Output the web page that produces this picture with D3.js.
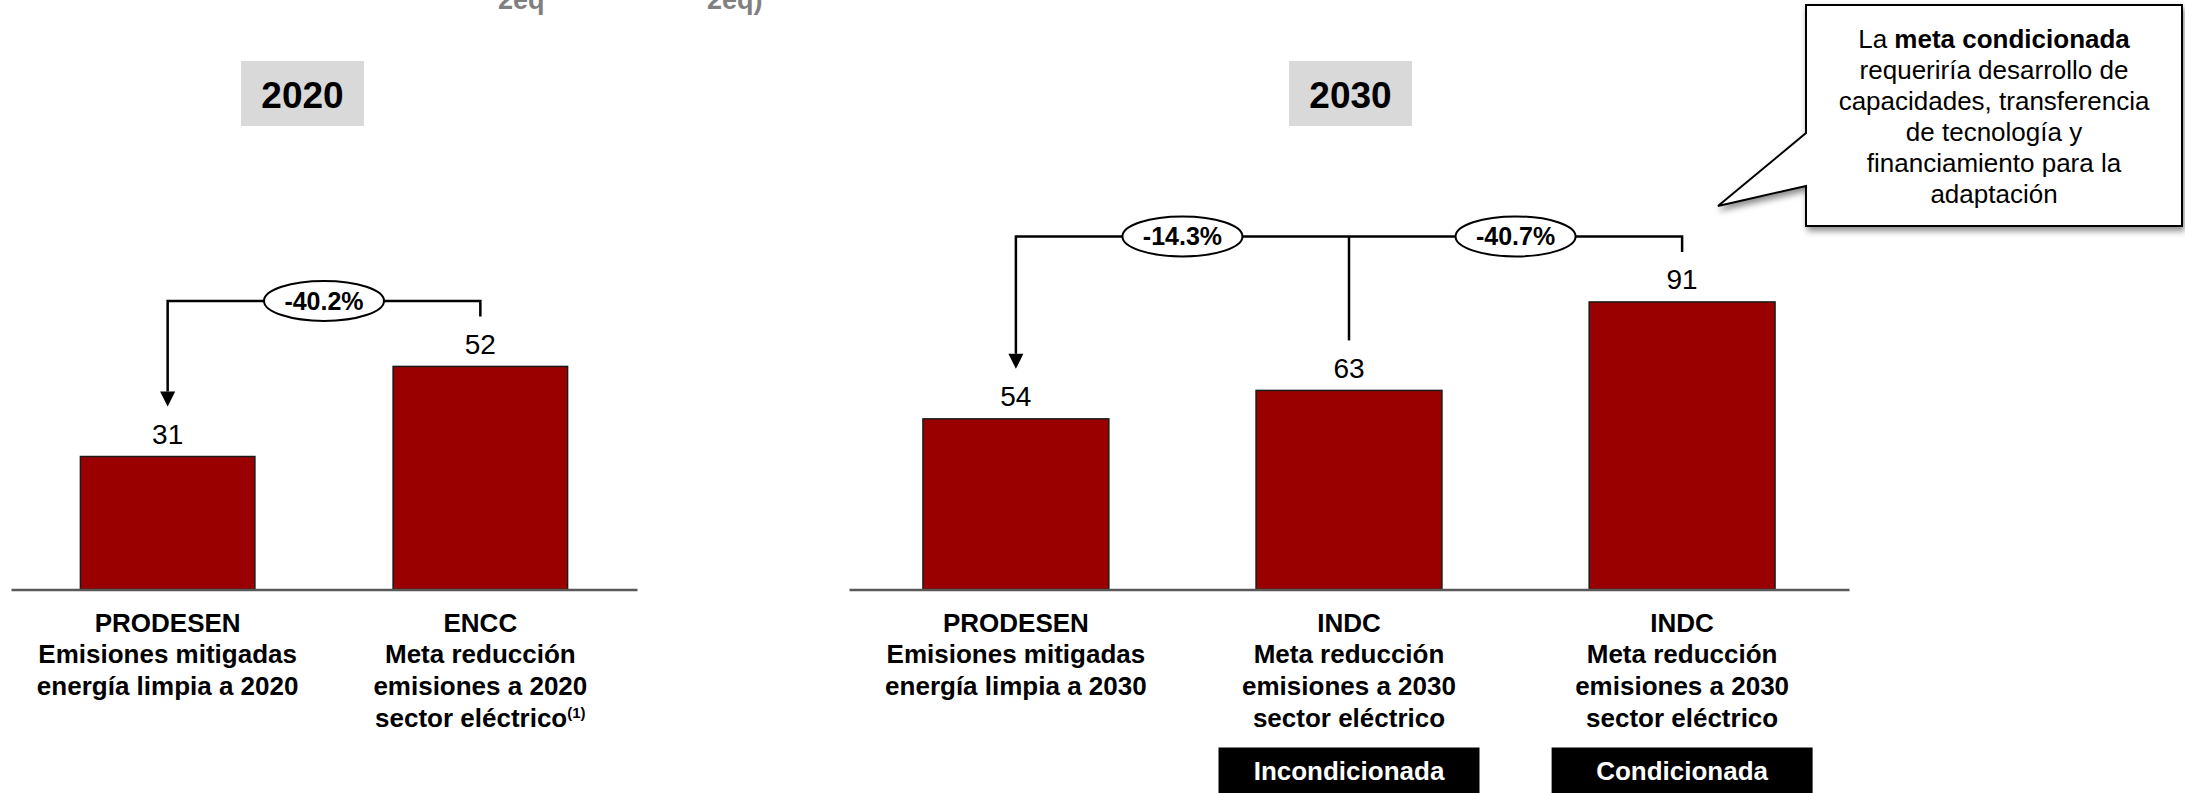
<!DOCTYPE html>
<html>
<head>
<meta charset="utf-8">
<script src="https://cdn.jsdelivr.net/npm/d3@7"></script>
<style>
  html, body { margin: 0; padding: 0; background: #ffffff; }
  svg { display: block; font-family: "Liberation Sans", Arial, Helvetica, sans-serif; }
</style>
</head>
<body>
<svg id="chart" width="2185" height="793"></svg>
<script>
// Emisiones mitigadas por energía limpia frente a metas de reducción (MtCO2eq)

const years = ["2020", "2030"];

const categories2020 = ["PRODESEN", "ENCC"];
const values2020 = [31, 52];
const labels2020 = [
  ["PRODESEN", "Emisiones mitigadas", "energía limpia a 2020"],
  ["ENCC", "Meta reducción", "emisiones a 2020", "sector eléctrico"]
];
const footnotes2020 = ["", "(1)"];
const changes2020 = ["-40.2%"];

const categories2030 = ["PRODESEN", "INDC incondicionada", "INDC condicionada"];
const values2030 = [54, 63, 91];
const labels2030 = [
  ["PRODESEN", "Emisiones mitigadas", "energía limpia a 2030"],
  ["INDC", "Meta reducción", "emisiones a 2030", "sector eléctrico"],
  ["INDC", "Meta reducción", "emisiones a 2030", "sector eléctrico"]
];
const footnotes2030 = ["", "", ""];
const tags2030 = ["", "Incondicionada", "Condicionada"];
const changes2030 = ["-14.3%", "-40.7%"];

const unitFragments = ["2eq", "2eq)"];

const calloutLines = [
  [["La ", false], ["meta condicionada", true]],
  [["requeriría desarrollo de", false]],
  [["capacidades, transferencia", false]],
  [["de tecnología y", false]],
  [["financiamiento para la", false]],
  [["adaptación", false]]
];

const BAR_FILL = "#9b0000";
const svg = d3.select("#chart");

// drop shadow for the callout bubble
const defs = svg.append("defs");
defs.append("filter")
  .attr("id", "shadow")
  .attr("x", "-10%").attr("y", "-10%").attr("width", "130%").attr("height", "130%")
  .append("feDropShadow")
  .attr("dx", 2).attr("dy", 4).attr("stdDeviation", 3)
  .attr("flood-color", "#000").attr("flood-opacity", 0.45);

// unit text fragments along the top edge
svg.selectAll("text.unit")
  .data(unitFragments)
  .join("text")
  .attr("class", "unit")
  .attr("x", (d, i) => [498, 707][i])
  .attr("y", 9)
  .attr("font-size", 27)
  .attr("font-weight", "bold")
  .attr("fill", "#808080")
  .text(d => d);

const baseY = 589.5;

const panels = [
  {
    year: years[0], cats: categories2020, values: values2020, labels: labels2020,
    notes: footnotes2020, tags: null, changes: changes2020,
    range: [11, 637], yMax: 60, yTop: 332.1, titleX: 302.5
  },
  {
    year: years[1], cats: categories2030, values: values2030, labels: labels2030,
    notes: footnotes2030, tags: tags2030, changes: changes2030,
    range: [849, 1849], yMax: 100, yTop: 273.5, titleX: 1350.5
  }
];

panels.forEach(p => {
  const g = svg.append("g");

  const x = d3.scaleBand()
    .domain(p.cats)
    .range(p.range)
    .paddingInner(0.442)
    .paddingOuter(0.222);

  const y = d3.scaleLinear()
    .domain([0, p.yMax])
    .range([baseY, p.yTop]);

  const cx = i => x(p.cats[i]) + x.bandwidth() / 2;

  // year heading
  g.append("rect")
    .attr("x", p.titleX - 61.5).attr("y", 61)
    .attr("width", 123).attr("height", 65)
    .attr("fill", "#d9d9d9");
  g.append("text")
    .attr("x", p.titleX).attr("y", 107.5)
    .attr("text-anchor", "middle")
    .attr("font-size", 37).attr("font-weight", "bold")
    .attr("fill", "#000")
    .text(p.year);

  // bars
  g.selectAll("rect.bar")
    .data(p.values)
    .join("rect")
    .attr("class", "bar")
    .attr("x", (d, i) => x(p.cats[i]))
    .attr("y", d => y(d))
    .attr("width", x.bandwidth())
    .attr("height", d => y(0) - y(d))
    .attr("fill", BAR_FILL)
    .attr("stroke", "#1a1a1a")
    .attr("stroke-width", 1.5);

  // baseline axis
  const axis = g.append("g")
    .attr("transform", `translate(0,${baseY})`)
    .call(d3.axisBottom(x).tickSize(0).tickFormat(""));
  axis.select(".domain").attr("stroke", "#595959").attr("stroke-width", 2.5);

  // value labels
  g.selectAll("text.value")
    .data(p.values)
    .join("text")
    .attr("class", "value")
    .attr("x", (d, i) => cx(i))
    .attr("y", d => y(d) - 12.5)
    .attr("text-anchor", "middle")
    .attr("font-size", 28)
    .attr("fill", "#000")
    .text(d => d);

  // category labels
  p.labels.forEach((lines, i) => {
    const t = g.append("text")
      .attr("text-anchor", "middle")
      .attr("font-size", 26)
      .attr("font-weight", "bold")
      .attr("fill", "#000");
    lines.forEach((line, k) => {
      const isLast = k === lines.length - 1;
      t.append("tspan")
        .attr("x", cx(i))
        .attr("y", 631.5 + 31.8 * k)
        .text(line);
      if (isLast && p.notes[i]) {
        t.append("tspan")
          .attr("dy", -9)
          .attr("font-size", 15)
          .text(p.notes[i]);
      }
    });
  });

  // black tags under the categories
  if (p.tags) {
    p.tags.forEach((tag, i) => {
      if (!tag) return;
      g.append("rect")
        .attr("x", cx(i) - 130.5).attr("y", 747.5)
        .attr("width", 261).attr("height", 60)
        .attr("fill", "#000");
      g.append("text")
        .attr("x", cx(i)).attr("y", 780)
        .attr("text-anchor", "middle")
        .attr("font-size", 26).attr("font-weight", "bold")
        .attr("fill", "#fff")
        .text(tag);
    });
  }

  // comparison bracket
  const n = p.values.length;
  const tipY = i => y(p.values[i]) - 50;
  const bracketY = y(d3.max(p.values)) - 65.5;
  const headH = 15, headW = 15;

  g.append("path")
    .attr("d", `M${cx(0)},${tipY(0) - headH} V${bracketY} H${cx(n - 1)} V${tipY(n - 1)}`)
    .attr("fill", "none")
    .attr("stroke", "#000")
    .attr("stroke-width", 2.5)
    .attr("stroke-linejoin", "miter");

  for (let i = 1; i < n - 1; i++) {
    g.append("line")
      .attr("x1", cx(i)).attr("x2", cx(i))
      .attr("y1", bracketY).attr("y2", tipY(i))
      .attr("stroke", "#000").attr("stroke-width", 2.5);
  }

  g.append("path")
    .attr("d", `M${cx(0) - headW / 2},${tipY(0) - headH} L${cx(0) + headW / 2},${tipY(0) - headH} L${cx(0)},${tipY(0)} Z`)
    .attr("fill", "#000");

  // percentage bubbles between consecutive bars
  p.changes.forEach((c, i) => {
    const mx = (cx(i) + cx(i + 1)) / 2;
    g.append("ellipse")
      .attr("cx", mx).attr("cy", bracketY)
      .attr("rx", 60).attr("ry", 20)
      .attr("fill", "#fff")
      .attr("stroke", "#000")
      .attr("stroke-width", 2);
    g.append("text")
      .attr("x", mx).attr("y", bracketY)
      .attr("dy", "0.36em")
      .attr("text-anchor", "middle")
      .attr("font-size", 25).attr("font-weight", "bold")
      .attr("fill", "#000")
      .text(c);
  });
});

// callout bubble
const bx0 = 1806, bx1 = 2182, by0 = 5, by1 = 226;
svg.append("path")
  .attr("d", `M${bx0},${by0} H${bx1} V${by1} H${bx0} V186 L1718,206 L${bx0},133 Z`)
  .attr("fill", "#fff")
  .attr("stroke", "#000")
  .attr("stroke-width", 2)
  .attr("stroke-linejoin", "miter")
  .attr("filter", "url(#shadow)");

const callout = svg.append("text")
  .attr("text-anchor", "middle")
  .attr("font-size", 26)
  .attr("fill", "#000");
calloutLines.forEach((parts, k) => {
  const line = callout.append("tspan")
    .attr("x", (bx0 + bx1) / 2)
    .attr("y", 48 + 31 * k);
  parts.forEach(([txt, bold]) => {
    line.append("tspan")
      .attr("font-weight", bold ? "bold" : "normal")
      .text(txt);
  });
});
</script>
</body>
</html>
